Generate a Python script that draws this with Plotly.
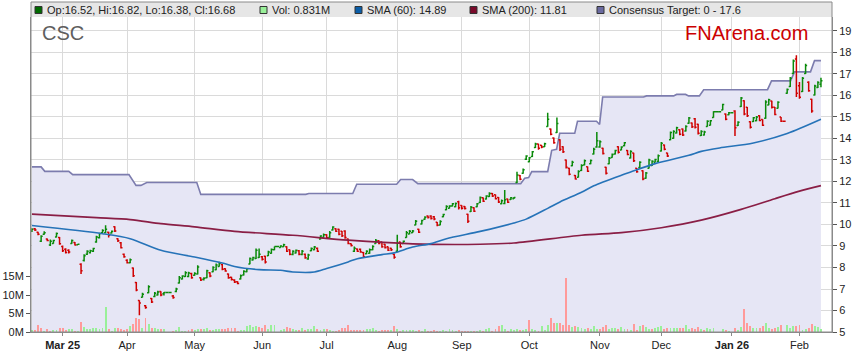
import plotly.graph_objects as go
import pandas as pd

# ---------------- data ----------------
opens = [9.68, 9.80, 9.64, 9.22, 9.55, 9.32, 9.05, 9.12, 9.42, 9.40,
         8.98, 8.85, 8.80, 9.12, 9.16, 9.06, 8.15, 8.32, 8.62, 8.68,
         8.75, 9.18, 9.38, 9.62, 9.62, 9.64, 9.60, 9.90, 9.34, 9.15,
         8.62, 8.34, 8.22, 7.98, 7.30, 6.46, 6.62, 6.22, 6.82, 6.56,
         6.65, 6.72, 6.88, 6.78, 6.84, 6.84, 6.68, 6.88, 7.28, 7.46,
         7.58, 7.58, 7.72, 7.64, 7.70, 7.52, 7.45, 7.52, 7.76, 7.80,
         7.90, 8.05, 8.14, 7.94, 7.70, 7.55, 7.42, 7.34, 7.46, 7.65,
         7.80, 8.16, 8.35, 8.42, 8.46, 8.50, 8.52, 8.55, 8.66, 8.82,
         8.98, 8.93, 8.97, 8.96, 8.82, 8.60, 8.67, 8.78, 8.60, 8.62,
         8.40, 8.78, 8.82, 8.90, 9.32, 9.40, 9.52, 9.40, 9.74, 9.80,
         9.78, 9.68, 9.70, 9.32, 9.10, 8.75, 8.86, 8.85, 8.70, 8.64,
         8.66, 8.82, 9.12, 9.24, 9.18, 9.08, 8.96, 8.90, 8.62, 8.75,
         9.18, 9.12, 9.40, 9.56, 9.62, 9.98, 9.78, 10.02, 10.24, 10.40,
         10.40, 10.36, 10.10, 9.98, 10.36, 10.68, 10.76, 10.86, 10.82, 11.06,
         10.88, 10.84, 10.48, 10.60, 10.78, 10.82, 11.02, 11.24, 11.18, 11.30,
         11.44, 11.38, 11.26, 10.96, 10.98, 11.18, 11.16, 11.20, 11.95, 12.28,
         12.38, 13.03, 12.92, 13.16, 13.58, 13.74, 13.68, 13.62, 14.56, 14.44,
         14.02, 14.28, 13.94, 13.62, 13.00, 12.62, 12.73, 12.28, 12.20, 12.51,
         12.77, 12.68, 12.82, 13.28, 13.60, 13.60, 13.55, 12.66, 12.82, 13.12,
         13.28, 13.62, 13.47, 13.66, 13.44, 13.09, 13.32, 12.61, 12.65, 12.50,
         12.15, 12.62, 12.74, 12.90, 12.93, 13.42, 13.70, 13.32, 13.94, 14.01,
         14.25, 14.41, 14.44, 14.35, 14.71, 14.72, 14.92, 14.66, 14.14, 14.16,
         14.56, 14.62, 14.98, 15.24, 15.24, 15.33, 15.14, 15.10, 15.20, 15.28,
         14.60, 15.49, 15.76, 15.45, 14.78, 14.79, 14.82, 15.06, 14.88, 14.94,
         15.56, 15.74, 15.45, 15.41, 15.00, 14.80, 16.10, 16.42, 17.02, 17.70,
         16.45, 16.18, 17.02, 16.62, 15.82, 16.02, 16.37, 16.52]
highs = [9.82, 9.84, 9.66, 9.50, 9.68, 9.35, 9.30, 9.29, 9.63, 9.42,
         9.02, 8.90, 8.85, 9.30, 9.18, 9.10, 8.20, 8.62, 8.80, 8.83,
         8.92, 9.48, 9.62, 9.78, 9.97, 9.66, 9.72, 9.92, 9.36, 9.18,
         8.65, 8.38, 8.42, 8.00, 7.33, 6.48, 6.82, 6.25, 7.18, 6.58,
         6.86, 6.92, 6.90, 6.86, 6.84, 6.84, 6.72, 7.06, 7.60, 7.64,
         7.82, 7.80, 7.75, 7.78, 8.10, 7.54, 7.55, 7.90, 7.78, 8.06,
         8.18, 8.27, 8.16, 7.96, 7.72, 7.57, 7.45, 7.36, 7.68, 7.87,
         7.98, 8.47, 8.50, 8.88, 8.88, 8.53, 8.55, 8.78, 8.88, 8.98,
         8.98, 9.04, 9.10, 8.99, 8.84, 8.80, 8.84, 8.81, 8.81, 8.65,
         8.64, 8.93, 9.00, 8.93, 9.50, 9.58, 9.55, 9.70, 9.92, 9.82,
         9.80, 9.70, 9.73, 9.35, 9.12, 8.98, 8.88, 8.88, 8.72, 8.80,
         8.88, 9.04, 9.32, 9.27, 9.20, 9.11, 8.98, 8.92, 8.64, 9.52,
         9.20, 9.25, 9.70, 9.74, 9.74, 10.21, 9.80, 10.22, 10.38, 10.42,
         10.43, 10.40, 10.12, 10.20, 10.50, 10.90, 10.90, 11.00, 11.02, 11.10,
         10.90, 10.86, 10.50, 10.86, 10.80, 11.00, 11.30, 11.26, 11.36, 11.50,
         11.46, 11.40, 11.28, 11.16, 11.60, 11.20, 11.28, 11.28, 12.45, 12.30,
         12.60, 13.22, 13.14, 13.42, 13.80, 13.76, 13.70, 13.80, 15.20, 14.46,
         14.04, 14.98, 13.96, 13.64, 13.02, 12.64, 12.96, 12.30, 12.52, 12.80,
         13.02, 12.70, 13.02, 13.57, 14.30, 13.92, 13.57, 12.68, 13.14, 13.30,
         13.48, 13.64, 13.64, 13.84, 13.46, 13.45, 13.34, 12.63, 12.94, 12.52,
         12.44, 13.06, 12.99, 13.06, 13.25, 13.84, 13.72, 13.34, 14.33, 14.38,
         14.54, 14.43, 14.46, 14.61, 15.00, 14.74, 14.95, 14.69, 14.38, 14.36,
         14.85, 14.86, 15.27, 15.24, 15.24, 15.62, 15.16, 15.23, 15.20, 15.31,
         14.80, 15.93, 15.78, 15.47, 14.80, 15.00, 15.04, 15.08, 14.90, 15.78,
         15.85, 15.76, 15.47, 15.73, 15.00, 14.80, 16.32, 16.86, 17.67, 17.87,
         16.63, 16.86, 17.48, 16.66, 15.85, 16.50, 16.66, 16.82]
lows = [9.65, 9.70, 9.50, 9.18, 9.52, 9.22, 9.00, 9.10, 9.40, 9.06,
        8.72, 8.65, 8.65, 9.10, 9.02, 9.05, 7.70, 8.28, 8.58, 8.65,
        8.72, 9.15, 9.35, 9.60, 9.60, 9.40, 9.58, 9.65, 9.18, 8.88,
        8.45, 8.18, 8.20, 7.56, 6.90, 5.78, 6.60, 6.08, 6.80, 6.35,
        6.62, 6.70, 6.66, 6.70, 6.84, 6.84, 6.55, 6.85, 7.25, 7.44,
        7.56, 7.55, 7.48, 7.62, 7.68, 7.37, 7.40, 7.50, 7.55, 7.78,
        7.87, 8.03, 7.87, 7.80, 7.48, 7.40, 7.28, 7.22, 7.44, 7.63,
        7.78, 8.15, 8.33, 8.40, 8.44, 8.33, 8.18, 8.53, 8.64, 8.80,
        8.98, 8.92, 8.95, 8.72, 8.57, 8.57, 8.65, 8.57, 8.57, 8.41,
        8.36, 8.76, 8.80, 8.72, 9.30, 9.38, 9.34, 9.38, 9.72, 9.65,
        9.50, 9.42, 9.34, 9.08, 8.98, 8.72, 8.72, 8.68, 8.46, 8.62,
        8.64, 8.80, 9.10, 9.08, 8.92, 8.88, 8.77, 8.77, 8.41, 8.72,
        8.92, 9.10, 9.38, 9.55, 9.60, 9.96, 9.60, 10.00, 10.22, 10.28,
        10.23, 10.20, 9.92, 9.96, 10.34, 10.66, 10.74, 10.84, 10.80, 10.70,
        10.70, 10.70, 10.07, 10.58, 10.58, 10.80, 11.00, 11.05, 11.16, 11.28,
        11.28, 11.16, 11.00, 10.94, 10.94, 11.00, 11.14, 11.18, 11.93, 12.06,
        12.36, 13.00, 12.90, 13.14, 13.56, 13.48, 13.55, 13.60, 14.54, 14.15,
        13.76, 14.26, 13.42, 13.33, 12.60, 12.29, 12.71, 12.09, 12.18, 12.49,
        12.75, 12.44, 12.80, 13.26, 13.57, 13.57, 13.26, 12.33, 12.80, 13.10,
        13.26, 13.30, 13.45, 13.64, 13.22, 13.07, 12.91, 12.41, 12.63, 12.06,
        12.13, 12.60, 12.72, 12.88, 12.91, 13.40, 13.45, 13.14, 13.92, 13.99,
        14.23, 14.15, 14.12, 14.33, 14.69, 14.49, 14.46, 14.18, 14.12, 14.14,
        14.54, 14.60, 14.96, 15.24, 15.24, 15.31, 14.85, 15.08, 15.20, 14.12,
        14.58, 15.47, 15.08, 15.00, 14.46, 14.77, 14.80, 14.80, 14.58, 14.92,
        15.54, 15.40, 15.08, 15.39, 14.77, 14.80, 16.08, 16.40, 17.00, 15.93,
        15.85, 16.16, 17.00, 16.17, 15.20, 16.00, 16.35, 16.38]
closes = [9.78, 9.74, 9.55, 9.45, 9.62, 9.25, 9.22, 9.25, 9.58, 9.10,
          8.78, 8.70, 8.72, 9.26, 9.05, 9.08, 7.85, 8.55, 8.75, 8.78,
          8.88, 9.42, 9.58, 9.72, 9.78, 9.50, 9.68, 9.70, 9.24, 8.92,
          8.50, 8.22, 8.36, 7.62, 6.95, 6.35, 6.76, 6.14, 7.10, 6.40,
          6.80, 6.86, 6.72, 6.84, 6.84, 6.84, 6.60, 7.00, 7.52, 7.60,
          7.76, 7.74, 7.52, 7.72, 8.02, 7.42, 7.50, 7.85, 7.60, 8.00,
          8.12, 8.20, 7.92, 7.84, 7.52, 7.44, 7.32, 7.26, 7.62, 7.82,
          7.94, 8.42, 8.46, 8.80, 8.62, 8.38, 8.25, 8.72, 8.84, 8.98,
          8.98, 9.00, 9.06, 8.76, 8.62, 8.75, 8.80, 8.62, 8.76, 8.45,
          8.58, 8.88, 8.95, 8.76, 9.46, 9.52, 9.38, 9.62, 9.88, 9.68,
          9.55, 9.48, 9.40, 9.12, 9.02, 8.90, 8.76, 8.72, 8.50, 8.76,
          8.82, 8.98, 9.26, 9.12, 8.96, 8.92, 8.80, 8.82, 8.48, 9.13,
          8.96, 9.22, 9.62, 9.68, 9.70, 10.15, 9.64, 10.18, 10.34, 10.32,
          10.28, 10.25, 9.96, 10.14, 10.46, 10.84, 10.86, 10.96, 10.98, 10.78,
          10.76, 10.74, 10.15, 10.80, 10.62, 10.96, 11.25, 11.08, 11.32, 11.44,
          11.32, 11.20, 11.05, 11.10, 11.15, 11.04, 11.24, 11.25, 12.30, 12.10,
          12.55, 13.18, 13.10, 13.38, 13.74, 13.55, 13.60, 13.76, 14.90, 14.20,
          13.80, 14.70, 13.50, 13.38, 12.66, 12.34, 12.90, 12.12, 12.46, 12.74,
          12.96, 12.48, 12.98, 13.50, 13.90, 13.85, 13.30, 12.38, 13.08, 13.26,
          13.44, 13.36, 13.60, 13.80, 13.26, 13.40, 12.96, 12.45, 12.90, 12.12,
          12.40, 13.00, 12.94, 13.02, 13.20, 13.78, 13.50, 13.18, 14.28, 14.32,
          14.50, 14.20, 14.16, 14.56, 14.95, 14.54, 14.52, 14.24, 14.32, 14.30,
          14.80, 14.82, 15.24, 15.24, 15.24, 15.58, 14.90, 15.20, 15.20, 14.50,
          14.76, 15.88, 15.14, 15.06, 14.52, 14.96, 15.00, 14.84, 14.62, 15.70,
          15.80, 15.45, 15.12, 15.68, 14.80, 14.80, 16.28, 16.80, 17.60, 16.10,
          15.92, 16.80, 17.40, 16.22, 15.28, 16.44, 16.60, 16.68]
volumes_m = [0.5, 0.6, 1.9, 1.2, 0.3, 0.7, 0.4, 0.5, 0.5, 1.0,
             1.0, 0.6, 0.8, 0.8, 0.3, 0.3, 2.6, 1.4, 0.7, 0.9,
             1.0, 1.0, 0.9, 1.2, 6.7, 0.7, 0.4, 1.0, 1.0, 0.8,
             0.6, 0.8, 1.5, 2.2, 3.7, 3.5, 1.2, 3.8, 2.3, 1.0,
             1.0, 0.9, 0.8, 0.7, 0.0, 0.0, 0.2, 0.5, 1.3, 0.4,
             0.3, 0.5, 0.7, 0.5, 0.8, 0.7, 0.9, 1.0, 0.5, 0.6,
             0.9, 0.7, 0.8, 0.9, 1.1, 1.2, 1.0, 0.4, 0.6, 0.5,
             1.5, 1.8, 1.3, 1.6, 1.4, 1.0, 1.8, 0.8, 2.0, 1.8,
             0.0, 0.6, 0.9, 1.4, 1.0, 0.8, 0.6, 0.5, 1.0, 0.6,
             0.9, 0.9, 1.6, 0.8, 0.6, 0.9, 0.7, 0.6, 0.3, 0.3,
             0.6, 1.0, 1.1, 1.8, 0.6, 0.5, 0.6, 0.6, 0.5, 0.7,
             0.8, 1.1, 0.5, 0.3, 0.6, 0.5, 0.5, 0.6, 1.5, 0.8,
             0.4, 0.6, 0.6, 0.5, 0.6, 0.3, 0.5, 0.4, 0.9, 0.3,
             0.3, 0.5, 0.4, 0.4, 0.5, 0.4, 0.8, 0.5, 0.3, 0.5,
             0.3, 0.2, 0.3, 0.3, 0.2, 0.4, 0.6, 0.4, 0.7, 1.0,
             0.3, 0.8, 1.5, 2.0, 0.7, 0.4, 0.7, 0.5, 0.8, 0.6,
             0.5, 0.7, 3.2, 0.8, 0.5, 0.3, 1.7, 0.6, 2.0, 3.7,
             2.4, 2.4, 2.5, 1.9, 14.5, 1.9, 1.3, 1.7, 1.3, 1.1,
             0.9, 1.2, 0.8, 1.5, 0.8, 0.9, 1.3, 1.8, 0.8, 1.0,
             1.2, 0.8, 1.4, 0.8, 0.7, 0.5, 2.2, 0.5, 1.5, 1.9,
             1.3, 0.9, 0.7, 1.0, 1.3, 1.5, 0.9, 1.2, 1.0, 1.1,
             1.1, 1.2, 1.0, 1.9, 0.8, 1.2, 0.9, 1.4, 0.8, 0.6,
             1.0, 0.9, 1.2, 0.0, 0.0, 0.8, 0.6, 0.4, 0.0, 1.0,
             0.5, 1.3, 6.1, 2.5, 1.7, 1.2, 1.2, 1.1, 1.7, 2.4,
             1.1, 0.8, 1.0, 1.4, 1.9, 0.0, 1.8, 1.2, 1.6, 1.6,
             1.8, 0.5, 0.7, 1.2, 2.3, 1.5, 1.4, 0.831]

# simple moving averages, sampled along the curves (trading-day index, price)
sma60_x = [0, 23, 32, 42, 53, 62, 66, 74, 81, 85, 92, 96, 103, 106, 114, 118, 124, 130,
           135, 146, 157, 161, 168, 172, 179, 183, 192, 195, 203, 214, 218, 224, 235, 246, 257]
sma60_y = [9.95, 9.57, 9.34, 8.80, 8.49, 8.21, 8.05, 7.90, 7.87, 7.79, 7.79, 7.95, 8.26, 8.41,
           8.60, 8.68, 8.95, 9.11, 9.34, 9.68, 10.07, 10.25, 10.75, 11.05, 11.50, 11.80, 12.29,
           12.44, 12.83, 13.22, 13.40, 13.56, 13.79, 14.23, 14.89]
sma200_x = [0, 21, 32, 42, 53, 66, 85, 103, 124, 146, 157, 179, 192, 205, 218, 231, 242, 250, 257]
sma200_y = [10.48, 10.32, 10.23, 10.04, 9.89, 9.68, 9.50, 9.27, 9.10, 9.08, 9.14, 9.50, 9.62,
            9.85, 10.20, 10.70, 11.20, 11.55, 11.81]

# consensus target (step line vertices)
target_x = [0, 3, 4.2, 12, 13.3, 31.6, 33.9, 35.5, 37.4, 53.7, 55, 89.2, 90.2, 104.5, 105.8,
            118.8, 120.1, 124, 125.7, 159.2, 160.5, 161.8, 162.8, 168, 169.3, 170.9, 171.9,
            176.8, 177.7, 183.9, 184.9, 185.9, 199.2, 200.2, 209, 210, 212.9, 213.9, 217.4,
            218.8, 239.6, 240.9, 247.1, 248.4, 253.6, 254.9, 257]
target_y = [12.68, 12.68, 12.47, 12.47, 12.32, 12.32, 11.82, 11.82, 11.95, 11.95, 11.40, 11.40,
            11.44, 11.44, 11.87, 11.87, 12.09, 12.09, 11.90, 11.90, 12.15, 12.18, 12.46, 12.46,
            13.45, 13.50, 14.24, 14.24, 14.80, 14.80, 14.65, 15.93, 15.93, 15.98, 15.98, 16.05,
            16.05, 15.98, 15.98, 16.27, 16.27, 16.68, 16.68, 17.10, 17.10, 17.62, 17.62]

first_day = "2025-02-17"
month_tick_labels = ["Mar 25", "Apr", "May", "Jun", "Jul", "Aug", "Sep", "Oct", "Nov", "Dec", "Jan 26", "Feb"]
bold_labels = ["Mar 25", "Jan 26"]
price_ticks = list(range(5, 20))
vol_ticks = [0, 5, 10, 15]
ticker = "CSC"
target_low, target_high = 0, 17.6

# ---------------- derived ----------------
n = len(closes)
dates = pd.bdate_range(first_day, periods=n)
days = list(range(n))
month_starts = [i for i in range(1, n) if dates[i].month != dates[i - 1].month]

GREEN = "#0A8A0A"
RED = "#D00000"
vol_colors = []
for i in range(n):
    prev = closes[i - 1] if i > 0 else opens[0]
    vol_colors.append("#99F099" if closes[i] >= prev else "#FF9A9A")

W, H = 859, 363
L, R, T, B = 31, 832, 17, 332
PRICE_RANGE = [5, 19.65]


def px(x):
    return (x - L) / (R - L)


def py(y):
    return (B - y) / (B - T)


FONT = "Liberation Sans, Arial, sans-serif"

fig = go.Figure()

# base price axis (y): consensus target area
fig.add_trace(go.Scatter(x=target_x, y=target_y, mode="lines", fill="tozeroy",
                         fillcolor="#E6E6F5", line=dict(color="#7C7CAE", width=1.6),
                         hoverinfo="skip", showlegend=False, yaxis="y"))
# volume (y2, left)
fig.add_trace(go.Bar(x=days, y=volumes_m, marker=dict(color=vol_colors, line=dict(width=0)),
                     width=0.62, yaxis="y2", hoverinfo="skip", showlegend=False))
# price bars and SMAs on overlay price axis (y3) so they sit above the shaded area
fig.add_trace(go.Ohlc(x=days, open=opens, high=highs, low=lows, close=closes,
                      increasing=dict(line=dict(color=GREEN, width=1.5)),
                      decreasing=dict(line=dict(color=RED, width=1.5)),
                      tickwidth=0.5, hoverinfo="skip", showlegend=False, yaxis="y3"))
fig.add_trace(go.Scatter(x=sma200_x, y=sma200_y, mode="lines",
                         line=dict(color="#8A1E45", width=1.7, shape="spline", smoothing=0.8),
                         hoverinfo="skip", showlegend=False, yaxis="y3"))
fig.add_trace(go.Scatter(x=sma60_x, y=sma60_y, mode="lines",
                         line=dict(color="#2673B8", width=1.6, shape="spline", smoothing=0.8),
                         hoverinfo="skip", showlegend=False, yaxis="y3"))

ticktext = [f"<b>{t}</b>" if t in bold_labels else t for t in month_tick_labels]

fig.update_layout(
    width=W, height=H,
    margin=dict(l=L, r=W - R, t=T, b=H - B, autoexpand=False),
    paper_bgcolor="white", plot_bgcolor="white",
    font=dict(family=FONT, size=11, color="#222"),
    showlegend=False,
    bargap=0,
    xaxis=dict(range=[-0.3, 260.6], tickvals=month_starts, ticktext=ticktext,
               showgrid=True, gridcolor="#DADADA", gridwidth=1, zeroline=False,
               showline=True, linecolor="#8A8A8A", linewidth=1,
               ticks="outside", ticklen=3, tickcolor="#8A8A8A",
               rangeslider=dict(visible=False), fixedrange=True),
    yaxis=dict(range=PRICE_RANGE, side="right", tickvals=price_ticks,
               showgrid=True, gridcolor="#DADADA", gridwidth=1, zeroline=False,
               showline=True, linecolor="#8A8A8A", linewidth=1,
               ticks="outside", ticklen=4, tickcolor="#555"),
    yaxis2=dict(range=[0, 85.3], overlaying="y", side="left",
                tickvals=vol_ticks, ticktext=[f"{v}M" for v in vol_ticks],
                showgrid=False, zeroline=False, showline=True,
                linecolor="#8A8A8A", linewidth=1,
                ticks="outside", ticklen=4, tickcolor="#555"),
    yaxis3=dict(range=PRICE_RANGE, overlaying="y", side="right", visible=False,
                showgrid=False, zeroline=False),
)

shapes = []
# header band and frame
shapes.append(dict(type="rect", xref="paper", yref="paper", x0=0, x1=1, y0=1, y1=py(2),
                   fillcolor="#E6E6E6", line=dict(width=0), layer="below"))
shapes.append(dict(type="rect", xref="paper", yref="paper", x0=0, x1=1, y0=0, y1=py(2),
                   line=dict(color="#8A8A8A", width=1)))

legend_items = [
    (f"Op:{opens[-1]:.2f}, Hi:{highs[-1]:.2f}, Lo:{lows[-1]:.2f}, Cl:{closes[-1]:.2f}", "#006A00", 35),
    (f"Vol: {volumes_m[-1]:.3f}M", "#99F099", 260),
    (f"SMA (60): {sma60_y[-1]:.2f}", "#0B5EA8", 355),
    (f"SMA (200): {sma200_y[-1]:.2f}", "#7A0A2A", 470),
    (f"Consensus Target: {target_low} - {target_high}", "#6A6AA0", 597),
]
annotations = []
for text, color, sx in legend_items:
    shapes.append(dict(type="rect", xref="paper", yref="paper",
                       x0=px(sx), x1=px(sx + 7), y0=py(13.5), y1=py(6.5),
                       fillcolor=color, line=dict(color="#333", width=1)))
    annotations.append(dict(text=text, xref="paper", yref="paper", x=px(sx + 10), y=py(10),
                            xanchor="left", yanchor="middle", showarrow=False,
                            font=dict(family=FONT, size=11, color="#222")))

annotations.append(dict(text=ticker, xref="paper", yref="paper", x=px(40), y=py(32.5),
                        xanchor="left", yanchor="middle", showarrow=False,
                        font=dict(family=FONT, size=20, color="#5E5E5E")))
annotations.append(dict(text="FNArena.com", xref="paper", yref="paper", x=px(810), y=py(32.5),
                        xanchor="right", yanchor="middle", showarrow=False,
                        font=dict(family=FONT, size=20, color="#CC0000")))

fig.update_layout(shapes=shapes, annotations=annotations)

fig.write_html("out.html", config={"displayModeBar": False, "staticPlot": True},
               post_script="document.body.style.margin='0';document.body.style.padding='0';")
